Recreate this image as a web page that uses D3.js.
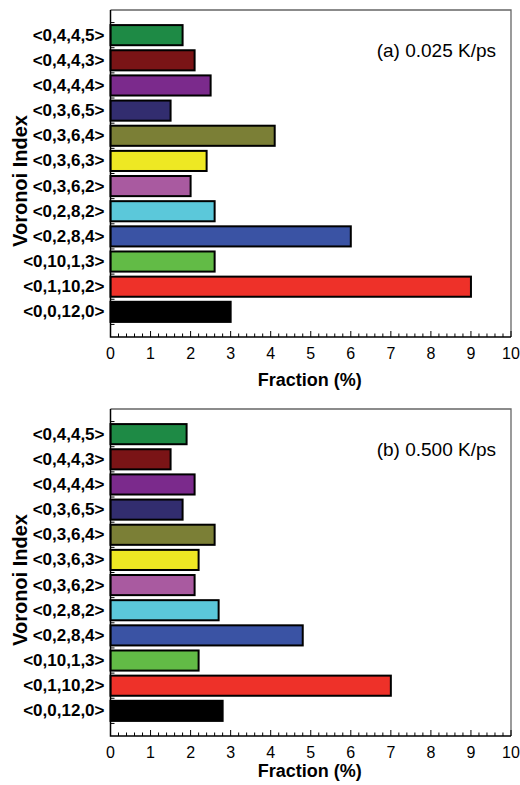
<!DOCTYPE html>
<html>
<head>
<meta charset="utf-8">
<script src="https://cdn.jsdelivr.net/npm/d3@7"></script>
<style>
  body { margin: 0; background: #fff; }
  text { font-family: "Liberation Sans", Arial, sans-serif; }
</style>
</head>
<body>
<script>
// Voronoi 指数，从下到上
const categories = ["<0,0,12,0>", "<0,1,10,2>", "<0,10,1,3>", "<0,2,8,4>", "<0,2,8,2>", "<0,3,6,2>",
  "<0,3,6,3>", "<0,3,6,4>", "<0,3,6,5>", "<0,4,4,4>", "<0,4,4,3>", "<0,4,4,5>"];
const barColors = ["#000000", "#ee3129", "#62bb46", "#3a53a4", "#5bc8da", "#a95aa0",
  "#eee823", "#7b7f36", "#322d6f", "#7b2a8c", "#7a1416", "#1e8a45"];
const valuesA = [3.0, 9.0, 2.6, 6.0, 2.6, 2.0, 2.4, 4.1, 1.5, 2.5, 2.1, 1.8];
const valuesB = [2.8, 7.0, 2.2, 4.8, 2.7, 2.1, 2.2, 2.6, 1.8, 2.1, 1.5, 1.9];
const xTicks = [0, 1, 2, 3, 4, 5, 6, 7, 8, 9, 10];
const panelLabels = ["(a) 0.025 K/ps", "(b) 0.500 K/ps"];

const svg = d3.select("body").append("svg")
  .attr("width", 520)
  .attr("height", 785);

function drawPanel(top, values, label, titleGap) {
  const left = 110.5, right = 511, bottom = top + 327;
  const x = d3.scaleLinear().domain([0, 10]).range([left, right]);
  const y = d3.scaleLinear().domain([-1, 12]).range([bottom, top]);
  const g = svg.append("g");

  // 上、右边框（灰色）
  g.append("path")
    .attr("d", `M${left},${top}H${right}V${bottom}`)
    .attr("fill", "none").attr("stroke", "#666").attr("stroke-width", 1.3);

  // 条形
  g.selectAll("rect").data(values).enter().append("rect")
    .attr("x", x(0))
    .attr("y", (d, i) => y(i + 0.4))
    .attr("width", d => x(d) - x(0))
    .attr("height", y(0) - y(0.8))
    .attr("fill", (d, i) => barColors[i])
    .attr("stroke", "#000").attr("stroke-width", 2);

  // x 轴：主刻度 + 次刻度（向内）
  const minor = d3.range(0, 10.01, 0.2);
  g.selectAll(".minor").data(minor).enter().append("line")
    .attr("x1", d => x(d)).attr("x2", d => x(d))
    .attr("y1", bottom).attr("y2", d => Math.abs(d - Math.round(d)) < 1e-6 ? bottom - 6 : bottom - 3.5)
    .attr("stroke", "#000").attr("stroke-width", 1);
  g.selectAll(".xl").data(xTicks).enter().append("text")
    .attr("x", d => x(d)).attr("y", bottom + 22)
    .attr("text-anchor", "middle")
    .style("font-size", "16px")
    .text(d => d);
  g.append("text")
    .attr("x", x(5) - 1).attr("y", bottom + titleGap)
    .attr("text-anchor", "middle")
    .style("font-size", "18px").style("font-weight", "bold")
    .text("Fraction (%)");

  // y 轴：边界刻度 + 类别标签
  g.selectAll(".yt").data(d3.range(13)).enter().append("line")
    .attr("x1", left).attr("x2", left + 4)
    .attr("y1", d => y(d - 0.5)).attr("y2", d => y(d - 0.5))
    .attr("stroke", "#000").attr("stroke-width", 1);
  g.selectAll(".yl").data(categories).enter().append("text")
    .attr("x", left - 6).attr("y", (d, i) => y(i))
    .attr("text-anchor", "end").attr("dominant-baseline", "central")
    .style("font-size", "17px").style("font-weight", "bold")
    .text(d => d);
  g.append("text")
    .attr("transform", `translate(20,${top + 171}) rotate(-90)`)
    .attr("text-anchor", "middle").attr("dominant-baseline", "central")
    .style("font-size", "20px").style("font-weight", "bold")
    .text("Voronoi Index");

  // 左、下轴线（黑色）
  g.append("path")
    .attr("d", `M${left},${top}V${bottom}H${right}`)
    .attr("fill", "none").attr("stroke", "#000").attr("stroke-width", 1.5);

  g.append("text")
    .attr("x", 496).attr("y", top + 40)
    .attr("text-anchor", "end").attr("dominant-baseline", "central")
    .style("font-size", "19px")
    .text(label);
}

drawPanel(10, valuesA, panelLabels[0], 49);
drawPanel(409, valuesB, panelLabels[1], 41);
</script>
</body>
</html>
